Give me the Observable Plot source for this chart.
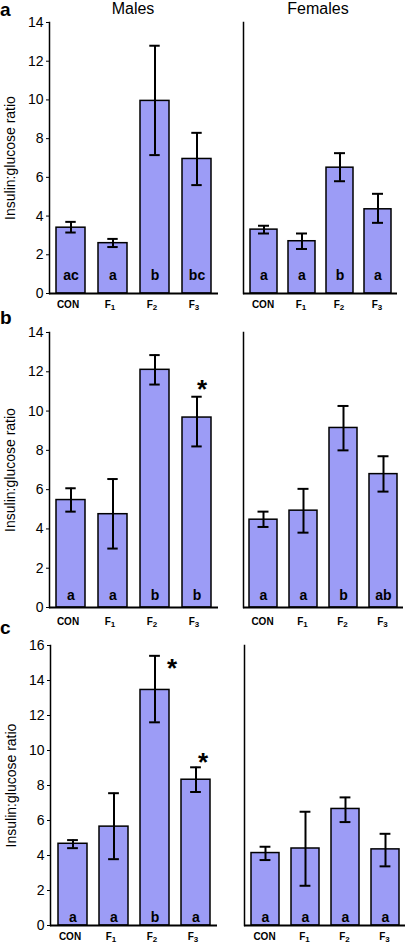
<!DOCTYPE html>
<html><head><meta charset="utf-8">
<script src="https://cdn.jsdelivr.net/npm/d3@7"></script>
<script src="https://cdn.jsdelivr.net/npm/@observablehq/plot@0.6"></script>
<style>
body{margin:0;background:#fff;}
#chart{position:relative;width:406px;height:945px;overflow:hidden;font-family:"Liberation Sans",Arial,sans-serif;color:#000;}
#chart svg{position:absolute;}
.panel{position:absolute;font-weight:bold;font-size:19px;line-height:19px;}
.sex{position:absolute;font-size:16px;line-height:16px;transform:translateX(-50%);white-space:nowrap;}
</style></head><body><div id="chart"></div>
<script>
// ---- data ----
const groups = ["CON", "F1", "F2", "F3"];
const groupLabels = ["CON", "F1", "F2", "F3"]; // digit after F drawn as subscript
const yLabel = "Insulin:glucose ratio";
const sexes = ["Males", "Females"];
const panelLetters = ["a", "b", "c"];

const maleA = [3.4, 2.6, 9.95, 6.95];
const maleALo = [3.15, 2.4, 7.15, 5.6];
const maleAHi = [3.7, 2.82, 12.8, 8.3];
const maleALetters = ["ac", "a", "b", "bc"];
const femaleA = [3.3, 2.7, 6.5, 4.35];
const femaleALo = [3.1, 2.3, 5.8, 3.65];
const femaleAHi = [3.5, 3.1, 7.25, 5.15];
const femaleALetters = ["a", "a", "b", "a"];

const maleB = [5.47, 4.75, 12.1, 9.67];
const maleBLo = [4.88, 3.0, 11.35, 8.2];
const maleBHi = [6.07, 6.54, 12.85, 10.73];
const maleBLetters = ["a", "a", "b", "b"];
const femaleB = [4.47, 4.93, 9.14, 6.79];
const femaleBLo = [4.1, 3.81, 8.0, 5.9];
const femaleBHi = [4.88, 6.04, 10.26, 7.7];
const femaleBLetters = ["a", "a", "b", "ab"];

const maleC = [4.67, 5.65, 13.46, 8.33];
const maleCLo = [4.42, 3.79, 11.61, 7.63];
const maleCHi = [4.88, 7.56, 15.41, 9.04];
const maleCLetters = ["a", "a", "b", "a"];
const femaleC = [4.14, 4.4, 6.66, 4.35];
const femaleCLo = [3.74, 2.27, 5.91, 3.38];
const femaleCHi = [4.5, 6.5, 7.32, 5.24];
const femaleCLetters = ["a", "a", "a", "a"];

const yMaxByRow = [14, 14, 16];
const yTickStep = 2;

// significance stars (Males panels): row, group, value level
const starRows = ["b", "c", "c"];
const starGroups = ["F3", "F2", "F3"];
const starLevels = [11.45, 15.05, 9.7];

// ---- layout ----
const layout = [
  {top: 0,   height: 316, mt: 22, mb: 23, L: {ml: 49, mr: 2}, R: {ml: 23, mr: 9}, letterDy: -18, xPad: 7, letterTop: 0},
  {top: 316, height: 316, mt: 16, mb: 25, L: {ml: 49, mr: 2}, R: {ml: 23, mr: 3}, letterDy: -12, xPad: 10, letterTop: 308},
  {top: 632, height: 313, mt: 13, mb: 20, L: {ml: 50, mr: 3}, R: {ml: 24, mr: 1}, letterDy: -8, xPad: 7, letterTop: 618}
];
const starDx = [5, 17, 7];
const leftW = 220, rightX = 220, rightW = 186;
const barFill = "#9c9cf6";
const font = "'Liberation Sans', Arial, sans-serif";

const series = {
  a: {Males: [maleA, maleALo, maleAHi, maleALetters], Females: [femaleA, femaleALo, femaleAHi, femaleALetters]},
  b: {Males: [maleB, maleBLo, maleBHi, maleBLetters], Females: [femaleB, femaleBLo, femaleBHi, femaleBLetters]},
  c: {Males: [maleC, maleCLo, maleCHi, maleCLetters], Females: [femaleC, femaleCLo, femaleCHi, femaleCLetters]}
};

const chart = document.getElementById("chart");
const SVGNS = "http://www.w3.org/2000/svg";

panelLetters.forEach((key, r) => {
  const lay = layout[r];
  const ymax = yMaxByRow[r];
  sexes.forEach((sex, s) => {
    const [vals, lo, hi, letters] = series[key][sex];
    const data = groups.map((g, i) => ({group: g, value: vals[i], lo: lo[i], hi: hi[i], letter: letters[i]}));
    const m = s === 0 ? lay.L : lay.R;
    const W = s === 0 ? leftW : rightW;
    const step = (W - m.ml - m.mr) / groups.length;
    const bw = step * 0.7;
    const capInset = (bw - 11) / 2;
    const marks = [
      Plot.barY(data, {x: "group", y: "value", fill: barFill, stroke: "#000", strokeWidth: 1.5}),
      Plot.ruleX(data, {x: "group", y1: "lo", y2: "hi", stroke: "#000", strokeWidth: 2}),
      Plot.tickY(data, {x: "group", y: "lo", stroke: "#000", strokeWidth: 2, insetLeft: capInset, insetRight: capInset}),
      Plot.tickY(data, {x: "group", y: "hi", stroke: "#000", strokeWidth: 2, insetLeft: capInset, insetRight: capInset}),
      Plot.text(data, {x: "group", y: () => 0, text: "letter", dy: lay.letterDy, fontSize: 14, fontWeight: "bold", fill: "#000"}),
      Plot.ruleY([0], {stroke: "#000", strokeWidth: 2}),
      Plot.frame({anchor: "left", stroke: "#000", strokeWidth: 1.5}),
      Plot.axisX({tickSize: 0, tickPadding: lay.xPad, fontSize: 10, fontWeight: "bold", label: null,
                  dx: s === 0 ? -3 : -1,
                  tickFormat: (d) => groupLabels[groups.indexOf(d)]})
    ];
    if (s === 0) {
      marks.push(Plot.axisY({ticks: d3.range(0, ymax + 1, yTickStep), tickSize: 3, tickPadding: 3, fontSize: 14,
        label: yLabel, labelAnchor: "center", labelArrow: "none", labelOffset: 44}));
      starRows.forEach((sr, k) => {
        if (sr !== key) return;
        marks.push(Plot.text([{group: starGroups[k], y: starLevels[k]}], {
          x: "group", y: "y", text: () => "*", fontSize: 26, fontWeight: "bold", dx: starDx[k], dy: 7, fill: "#000"}));
      });
    }
    const svg = Plot.plot({
      width: W,
      height: lay.height,
      marginLeft: m.ml,
      marginRight: m.mr,
      marginTop: lay.mt,
      marginBottom: lay.mb,
      x: {domain: groups, paddingInner: 0.3, paddingOuter: 0.15},
      y: {domain: [0, ymax], ...(s === 1 ? {axis: null} : {})},
      style: {fontFamily: font, color: "#000", background: "transparent", overflow: "visible"},
      marks
    });
    // turn the digit after "F" into a subscript
    svg.querySelectorAll("text").forEach((t) => {
      const txt = t.textContent;
      const mm = /^F(\d)$/.exec(txt);
      if (!mm) return;
      t.textContent = "F";
      const sub = document.createElementNS(SVGNS, "tspan");
      sub.setAttribute("dy", "0.3em");
      sub.setAttribute("font-size", "8");
      sub.textContent = mm[1];
      t.appendChild(sub);
    });
    svg.style.left = (s === 0 ? 0 : rightX) + "px";
    svg.style.top = lay.top + "px";
    chart.appendChild(svg);
  });
  const pl = document.createElement("div");
  pl.className = "panel";
  pl.textContent = key;
  pl.style.left = "0px";
  pl.style.top = lay.letterTop + "px";
  chart.appendChild(pl);
});

[133, 318].forEach((cx, i) => {
  const d = document.createElement("div");
  d.className = "sex";
  d.textContent = sexes[i];
  d.style.left = cx + "px";
  d.style.top = "1px";
  chart.appendChild(d);
});
</script>
</body></html>
